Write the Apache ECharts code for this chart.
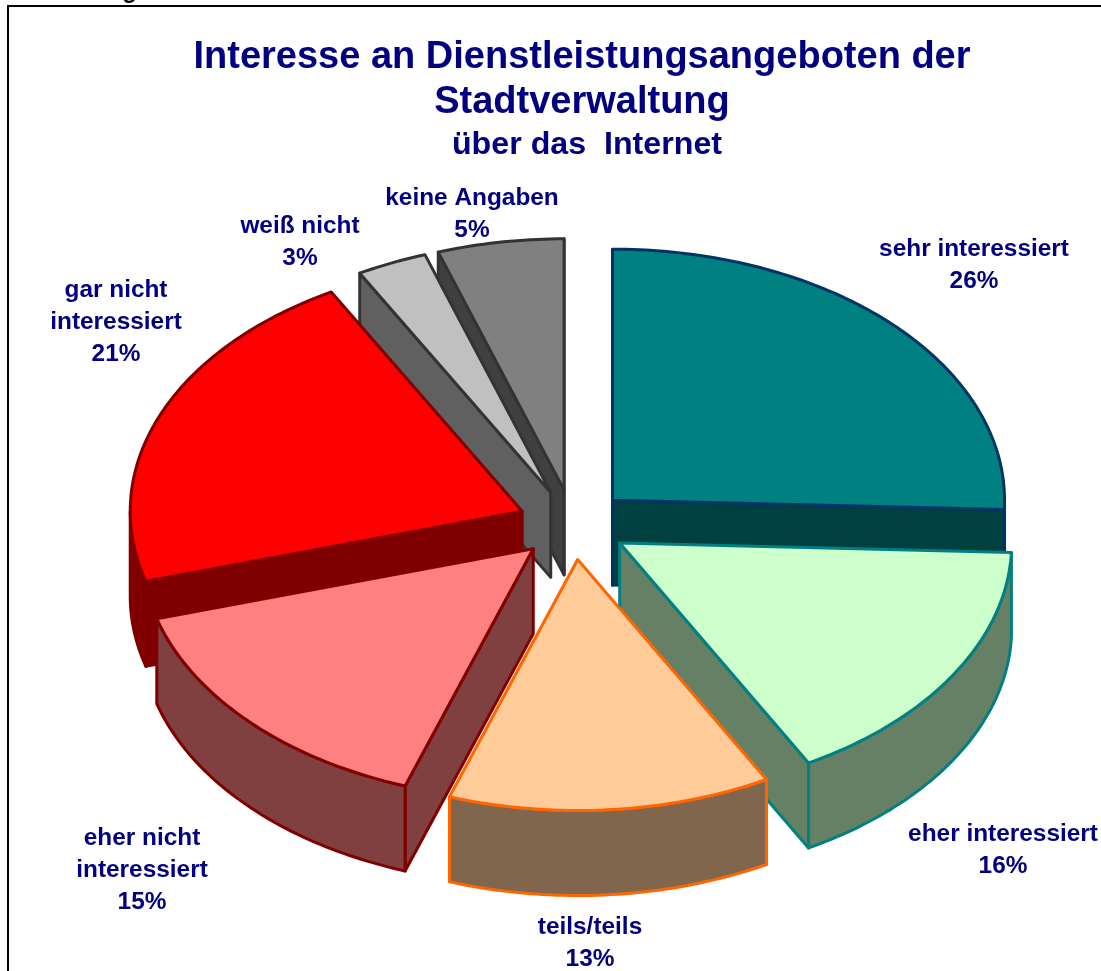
<!DOCTYPE html>
<html>
<head>
<meta charset="utf-8">
<style>html,body{margin:0;padding:0;background:#fff}#c{width:1101px;height:971px}</style>
<script src="https://cdn.jsdelivr.net/npm/echarts@6/dist/echarts.min.js"></script>
</head>
<body>
<div id="c"></div>
<script>
// Data
var categories = ['sehr interessiert', 'eher interessiert', 'teils/teils', 'eher nicht\ninteressiert', 'gar nicht\ninteressiert', 'weiß nicht', 'keine Angaben'];
var shares = [25.6, 16.4, 13.3, 15.2, 21.4, 2.9, 5.2];
var percentLabels = ['26%', '16%', '13%', '15%', '21%', '3%', '5%'];
var titleMain = 'Interesse an Dienstleistungsangeboten der\nStadtverwaltung';
var titleSub = 'über das  Internet';

// Styles and layout
var topColors = ['#008080', '#CCFFCC', '#FFCC99', '#FF8080', '#FF0000', '#C0C0C0', '#808080'];
var sideColors = ['#004040', '#668066', '#80664D', '#804040', '#800000', '#606060', '#404040'];
var borderColors = ['#003366', '#008080', '#FF6600', '#800000', '#800000', '#333333', '#333333'];
var paintOrder = [6, 5, 0, 4, 1, 3, 2];
var labelCenters = [[974, 265], [1003, 850], [590, 943], [142, 870], [116, 322], [300, 242], [472, 214]];
var pieCenter = [573, 524.5], radiusX = 392, radiusY = 251, depth = 85, explode = 0.14;
var total = shares.reduce(function (a, b) { return a + b; }, 0);
var navy = '#000080', fontFamily = '"Liberation Sans", Arial, sans-serif';

function startAngle(i) {
  var s = 0;
  for (var k = 0; k < i; k++) s += shares[k];
  return s / total * 360;
}
function arcPoint(cx, cy, deg, dy) {
  var t = deg * Math.PI / 180;
  return [cx + radiusX * Math.sin(t), cy - radiusY * Math.cos(t) + (dy || 0)];
}
function arcRun(cx, cy, from, to, dy) {
  var pts = [], n = Math.max(2, Math.ceil(Math.abs(to - from)));
  for (var k = 0; k <= n; k++) pts.push(arcPoint(cx, cy, from + (to - from) * k / n, dy));
  return pts;
}
function renderSlice(params, api) {
  var i = api.value(1);
  var a0 = startAngle(i), a1 = a0 + api.value(0) / total * 360;
  var mid = (a0 + a1) / 2 * Math.PI / 180;
  var cx = pieCenter[0] + explode * radiusX * Math.sin(mid);
  var cy = pieCenter[1] - explode * radiusY * Math.cos(mid);
  var faceStyle = function (fill) {
    return { fill: fill, stroke: borderColors[i], lineWidth: 3, lineJoin: 'round' };
  };
  var children = [];
  var visibleWalls = [];
  if (Math.sin(a0 * Math.PI / 180) < 1e-6) visibleWalls.push(a0);
  if (Math.sin(a1 * Math.PI / 180) > -1e-6) visibleWalls.push(a1);
  visibleWalls.forEach(function (a) {
    var p = arcPoint(cx, cy, a);
    children.push({ type: 'polygon', silent: true,
      shape: { points: [[cx, cy], p, [p[0], p[1] + depth], [cx, cy + depth]] },
      style: faceStyle(sideColors[i]) });
  });
  var w0 = Math.max(a0, 90), w1 = Math.min(a1, 270);
  if (w1 > w0) {
    children.push({ type: 'polygon', silent: true,
      shape: { points: arcRun(cx, cy, w0, w1, 0).concat(arcRun(cx, cy, w1, w0, depth)) },
      style: faceStyle(sideColors[i]) });
  }
  children.push({ type: 'polygon', silent: true,
    shape: { points: [[cx, cy]].concat(arcRun(cx, cy, a0, a1, 0)) },
    style: faceStyle(topColors[i]) });
  children.push({ type: 'text', silent: true, z2: 100,
    x: labelCenters[i][0], y: labelCenters[i][1],
    style: { text: categories[i] + '\n' + percentLabels[i], fill: navy,
      font: 'bold 24.4px ' + fontFamily, lineHeight: 32, align: 'center', verticalAlign: 'middle' } });
  return { type: 'group', children: children };
}

var chart = echarts.init(document.getElementById('c'), null, { renderer: 'canvas' });
chart.setOption({
  animation: false,
  backgroundColor: '#ffffff',
  title: [
    { text: titleMain, left: 577, top: 30, textAlign: 'center',
      textStyle: { color: navy, fontFamily: fontFamily, fontWeight: 'bold', fontSize: 38, lineHeight: 45 } },
    { text: titleSub, left: 582, top: 123, textAlign: 'center',
      textStyle: { color: navy, fontFamily: fontFamily, fontWeight: 'bold', fontSize: 32.2, lineHeight: 34 } }
  ],
  graphic: [
    { type: 'rect', silent: true, shape: { x: 8, y: 6, width: 1300, height: 1300 },
      style: { fill: 'none', stroke: '#000000', lineWidth: 2 } },
    { type: 'text', silent: true, x: 137, y: 3,
      style: { text: 'Abbildung', fill: '#000000', font: 'bold 24px ' + fontFamily, align: 'right', verticalAlign: 'bottom' } }
  ],
  series: [{
    type: 'custom',
    coordinateSystem: 'none',
    clip: false,
    silent: true,
    renderItem: renderSlice,
    data: paintOrder.map(function (i) { return [shares[i], i]; })
  }]
});
</script>
</body>
</html>
